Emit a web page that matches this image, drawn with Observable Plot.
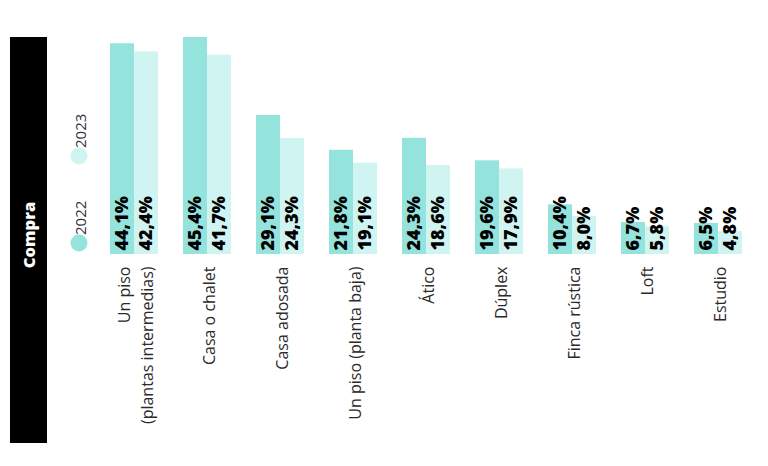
<!DOCTYPE html>
<html>
<head>
<meta charset="utf-8">
<script src="https://cdn.jsdelivr.net/npm/d3@7"></script>
<script src="https://cdn.jsdelivr.net/npm/@observablehq/plot@0.6"></script>
<style>
  html, body { margin: 0; padding: 0; background: #fff; }
  #chart { width: 768px; height: 466px; }
</style>
</head>
<body>
<div id="chart"></div>
<script>
const categories = ["Un piso\n(plantas intermedias)", "Casa o chalet", "Casa adosada", "Un piso (planta baja)", "Ático", "Dúplex", "Finca rústica", "Loft", "Estudio"];
const years = ["2022", "2023"];
const values2022 = [44.1, 45.4, 29.1, 21.8, 24.3, 19.6, 10.4, 6.7, 6.5];
const values2023 = [42.4, 41.7, 24.3, 19.1, 18.6, 17.9, 8.0, 5.8, 4.8];
const colors = ["#95e3dd", "#d0f4f1"];
const sectionTitle = "Compra";

const rows = [];
categories.forEach((c, i) => {
  rows.push({category: c, year: years[0], value: values2022[i]});
  rows.push({category: c, year: years[1], value: values2023[i]});
});
const fmt = v => d3.format(".1f")(v).replace(".", ",") + "%";

const chart = Plot.plot({
  width: 768,
  height: 466,
  marginLeft: 108,
  marginRight: 25,
  marginTop: 37,
  marginBottom: 212,
  style: {fontFamily: "'Open Sans', sans-serif", background: "#fff"},
  fx: {domain: categories, paddingInner: 0.346, paddingOuter: 0, axis: null, label: null},
  x: {domain: years, padding: 0, axis: null, label: null},
  y: {domain: [0, d3.max(rows, d => d.value)], axis: null, label: null},
  color: {domain: years, range: colors},
  marks: [
    Plot.barY(rows, {fx: "category", x: "year", y: "value", fill: "year"}),
    Plot.text(rows, {
      fx: "category", x: "year", y: 0, text: d => fmt(d.value),
      rotate: -90, textAnchor: "start", lineAnchor: "middle",
      dy: -4, fontSize: 18, fontWeight: 800, fill: "#000"
    }),
    Plot.text(categories, {
      fx: d => d, text: d => d, frameAnchor: "bottom",
      rotate: -90, textAnchor: "end", lineAnchor: "middle", lineHeight: 1.4,
      dy: 12, fontSize: 16, fill: "#2a2a2a"
    })
  ]
});

document.getElementById("chart").appendChild(chart);

// Side panel: black band with section title and rotated legend
const svg = d3.select(chart);
const side = svg.append("g").attr("class", "side");
side.append("rect").attr("x", 10).attr("y", 37).attr("width", 37).attr("height", 406).attr("fill", "#000");
side.append("text")
  .attr("transform", "translate(28,235) rotate(-90)")
  .attr("text-anchor", "middle").attr("dominant-baseline", "central")
  .attr("fill", "#fff").attr("font-weight", 800).attr("font-size", 16.5)
  .attr("font-family", "'Open Sans', sans-serif")
  .text(sectionTitle);

const legendY = [243, 156];
years.forEach((yr, i) => {
  side.append("circle").attr("cx", 79).attr("cy", legendY[i]).attr("r", 8.5).attr("fill", colors[i]);
  side.append("text")
    .attr("transform", `translate(80,${legendY[i] - 8}) rotate(-90)`)
    .attr("text-anchor", "start").attr("dominant-baseline", "central")
    .attr("fill", "#333").attr("font-size", 15)
    .attr("font-family", "'Open Sans', sans-serif")
    .text(yr);
});
</script>
</body>
</html>
